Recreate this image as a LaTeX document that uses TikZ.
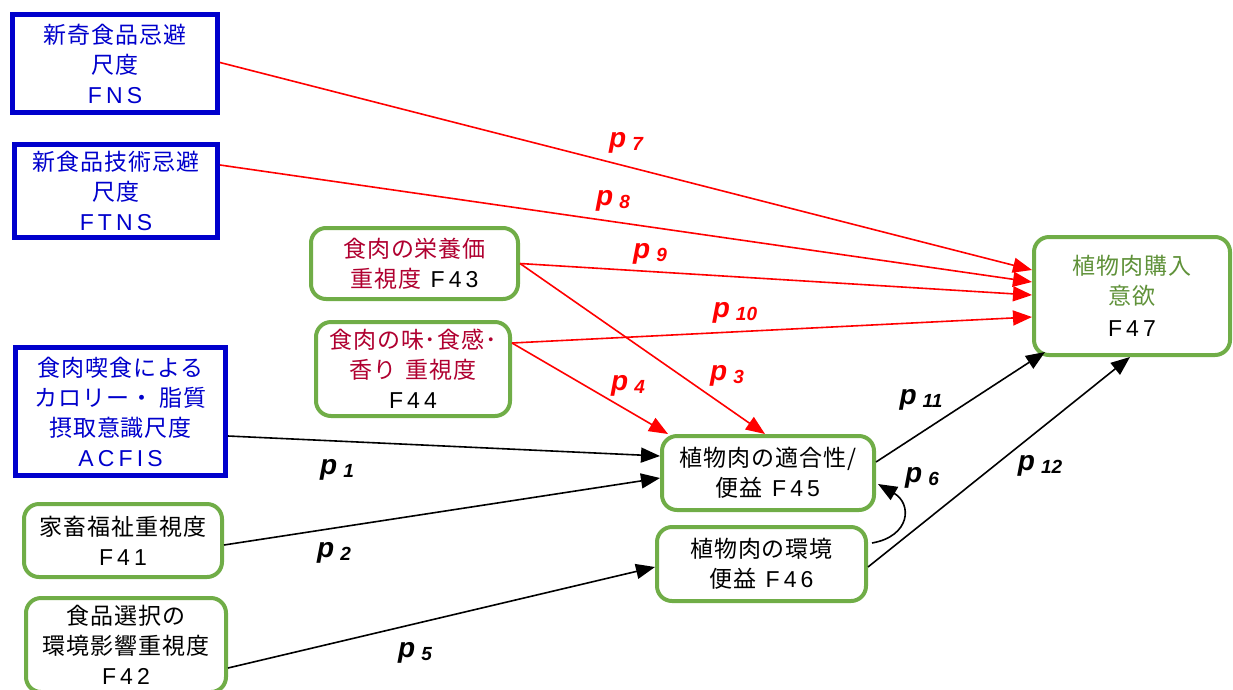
\documentclass[tikz,border=0pt]{standalone}
\usepackage{fontspec}
\setmainfont{Noto Sans CJK JP}[LetterSpace=4]
\newfontfamily\plabelfont{Liberation Sans}
\newfontfamily\idfont{Liberation Sans}[LetterSpace=18]
\usetikzlibrary{calc,arrows.meta}
\definecolor{scaleblue}{RGB}{0,0,204}
\definecolor{factorgreen}{RGB}{112,173,71}
\definecolor{meatred}{RGB}{176,0,48}
\definecolor{intentgreen}{RGB}{96,146,58}
\tikzstyle{scalebox} = [rectangle, inner sep=0pt, align=center, draw=scaleblue, line width=5pt, fill=white, text=scaleblue, font=\fontsize{23}{30}\selectfont]
\tikzstyle{factor} = [rectangle, rounded corners=15pt, inner sep=0pt, align=center, draw=factorgreen, line width=4pt, fill=white, font=\fontsize{23}{30}\selectfont]
\tikzstyle{redarrow} = [red, line width=1.6pt, -{Triangle[length=19pt,width=15pt]}]
\tikzstyle{blackarrow} = [black, line width=1.6pt, -{Triangle[length=19pt,width=15pt]}]
\newcommand{\pcoef}[1]{{\plabelfont\bfseries\itshape\fontsize{28}{28}\selectfont p\hspace{6pt}\raisebox{-3pt}{\fontsize{19}{19}\selectfont #1}}}
\newcommand{\fid}[1]{{\idfont #1}}
\newcommand{\gap}{\hspace{0.4em}}

\begin{document}
\begin{tikzpicture}[x=1pt, y=-1pt]
	\useasboundingbox (0,0) rectangle (1233,689);

	%% Psychological scales (blue boxes)
	\node[scalebox, minimum width=205pt, minimum height=98pt] (fns) at (115,63.5)
	  {新奇食品忌避\\尺度\\\fid{FNS}};
	\node[scalebox, minimum width=203pt, minimum height=93pt] (ftns) at (116,191)
	  {新食品技術忌避\\尺度\\\fid{FTNS}};
	\node[scalebox, minimum width=210pt, minimum height=128pt] (acfis) at (120.5,411.5)
	  {食肉喫食による\\カロリー・ 脂質\\摂取意識尺度\\\fid{ACFIS}};

	%% Factors (green boxes)
	\node[factor, minimum width=207pt, minimum height=71pt] (f43) at (414.5,263.5)
	  {\textcolor{meatred}{食肉の栄養価}\\\textcolor{meatred}{重視度}\gap\fid{F43}};
	\node[factor, minimum width=194pt, minimum height=94pt] (f44) at (413,369)
	  {\textcolor{meatred}{食肉の味･食感･}\\\textcolor{meatred}{香り\gap 重視度}\\\fid{F44}};
	\node[factor, minimum width=198pt, minimum height=73pt] (f41) at (123,540.5)
	  {家畜福祉重視度\\\fid{F41}};
	\node[factor, minimum width=200pt, minimum height=94pt] (f42) at (126,645)
	  {食品選択の\\環境影響重視度\\\fid{F42}};
	\node[factor, minimum width=212pt, minimum height=74pt] (f45) at (768,473)
	  {植物肉の適合性/\\便益\gap\fid{F45}};
	\node[factor, minimum width=209pt, minimum height=74pt] (f46) at (761.5,564)
	  {植物肉の環境\\便益\gap\fid{F46}};
	\node[factor, minimum width=196pt, minimum height=118pt] (f47) at (1132,296)
	  {\textcolor{intentgreen}{植物肉購入}\\\textcolor{intentgreen}{意欲}\\[2pt]\fid{F47}};

	%% Red paths
	\draw[redarrow] ([yshift=1pt]fns.east) -- ([yshift=26pt]f47.west);
	\draw[redarrow] ([yshift=26pt]ftns.east) -- ([yshift=14pt]f47.west);
	\draw[redarrow] (f43.east) -- ([yshift=1pt]f47.west);
	\draw[redarrow] ([yshift=26pt]f44.east) -- ([yshift=-21pt]f47.west);
	\draw[redarrow] (f43.east) -- ([xshift=-3pt]f45.north);
	\draw[redarrow] ([yshift=26pt]f44.east) -- ([xshift=-100pt]f45.north);

	%% Black paths
	\draw[blackarrow] ([yshift=-24.5pt]acfis.east) -- ([yshift=17pt]f45.west);
	\draw[blackarrow] ([yshift=-4.5pt]f41.east) -- ([yshift=-5pt]f45.west);
	\draw[blackarrow] ([yshift=-23pt]f42.east) -- ([yshift=-3pt]f46.west);
	\draw[blackarrow] ([yshift=11pt]f45.east) -- ([xshift=-87pt,yshift=5pt]f47.south);
	\draw[blackarrow] ([yshift=-3pt]f46.east) -- ([xshift=-2pt]f47.south);
	\draw[blackarrow] ([xshift=4pt,yshift=21pt]f46.east)
	  to[out=10,in=-30,looseness=1.7] ([xshift=2pt,yshift=-11pt]f45.east);

	%% Path coefficients
	\node[text=red] (p7) at (626,143) {\pcoef{7}};
	\node[text=red] (p8) at (613,201) {\pcoef{8}};
	\node[text=red] (p9) at (650,254) {\pcoef{9}};
	\node[text=red] (p10) at (735,313) {\pcoef{10}};
	\node[text=red] (p3) at (727,376) {\pcoef{3}};
	\node[text=red] (p4) at (628,386) {\pcoef{4}};
	\node (p1) at (337,470) {\pcoef{1}};
	\node (p2) at (334,553) {\pcoef{2}};
	\node (p5) at (415,653) {\pcoef{5}};
	\node (p11) at (921,400) {\pcoef{11}};
	\node (p12) at (1040,466) {\pcoef{12}};
	\node (p6) at (922,478) {\pcoef{6}};
\end{tikzpicture}
\end{document}
